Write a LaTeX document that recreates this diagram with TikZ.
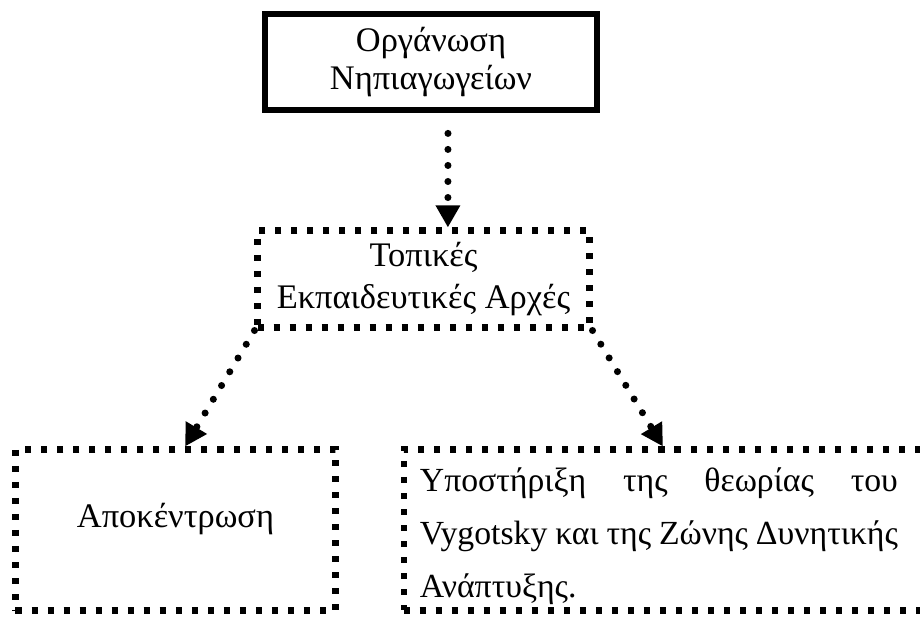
\documentclass[tikz,border=0pt]{standalone}
\usepackage{fontspec}
\setmainfont{Liberation Serif}
\usetikzlibrary{arrows.meta}

\begin{document}
\begin{tikzpicture}[
  solidbox/.style={draw, line width=4.3pt, minimum width=8.3cm, minimum height=2.42cm, align=center, font=\fontsize{24.5}{27}\selectfont},
  dotbox/.style={draw, line width=4.3pt, dash pattern=on 4.3pt off 7.1pt, font=\fontsize{24.5}{29.6}\selectfont},
  link/.style={draw, line width=5pt, line cap=round, dash pattern=on 0pt off 11.4pt, -{Triangle[length=5.5mm,width=5.8mm]}}
]
  \clip (0,0) rectangle (23,15.425);
  \node[solidbox] (org) at (10.775,13.875) {Οργάνωση\\Νηπιαγωγείων};
  \node[dotbox, minimum width=8.3cm, minimum height=2.425cm, align=center] (topika) at (10.5875,8.45) {Τοπικές\\Εκπαιδευτικές Αρχές};
  \node[dotbox, minimum width=8cm, minimum height=4.025cm, text height=0.6cm, text depth=0.7cm] (apok) at (4.3875,2.175) {Αποκέντρωση};
  \node[dotbox, anchor=west, minimum height=4.025cm, inner xsep=0.41cm, inner ysep=0pt, font=\fontsize{24}{38}\selectfont] (vyg) at (10.0125,2.175)
    {\parbox{11.95cm}{Υποστήριξη της θεωρίας του\linebreak Vygotsky και της Ζώνης Δυνητικής\linebreak Ανάπτυξης.}\rule{0pt}{2.25cm}\hspace*{0.7cm}};
  \draw[link, shorten <=0.5cm] ([xshift=4.25mm]org.south) -- ([xshift=6.1mm]topika.north);
  \draw[link] (topika.south west) -- ([xshift=2.4mm]apok.north);
  \draw[link] (topika.south east) -- ([xshift=-2.5mm]vyg.north);
\end{tikzpicture}
\end{document}
